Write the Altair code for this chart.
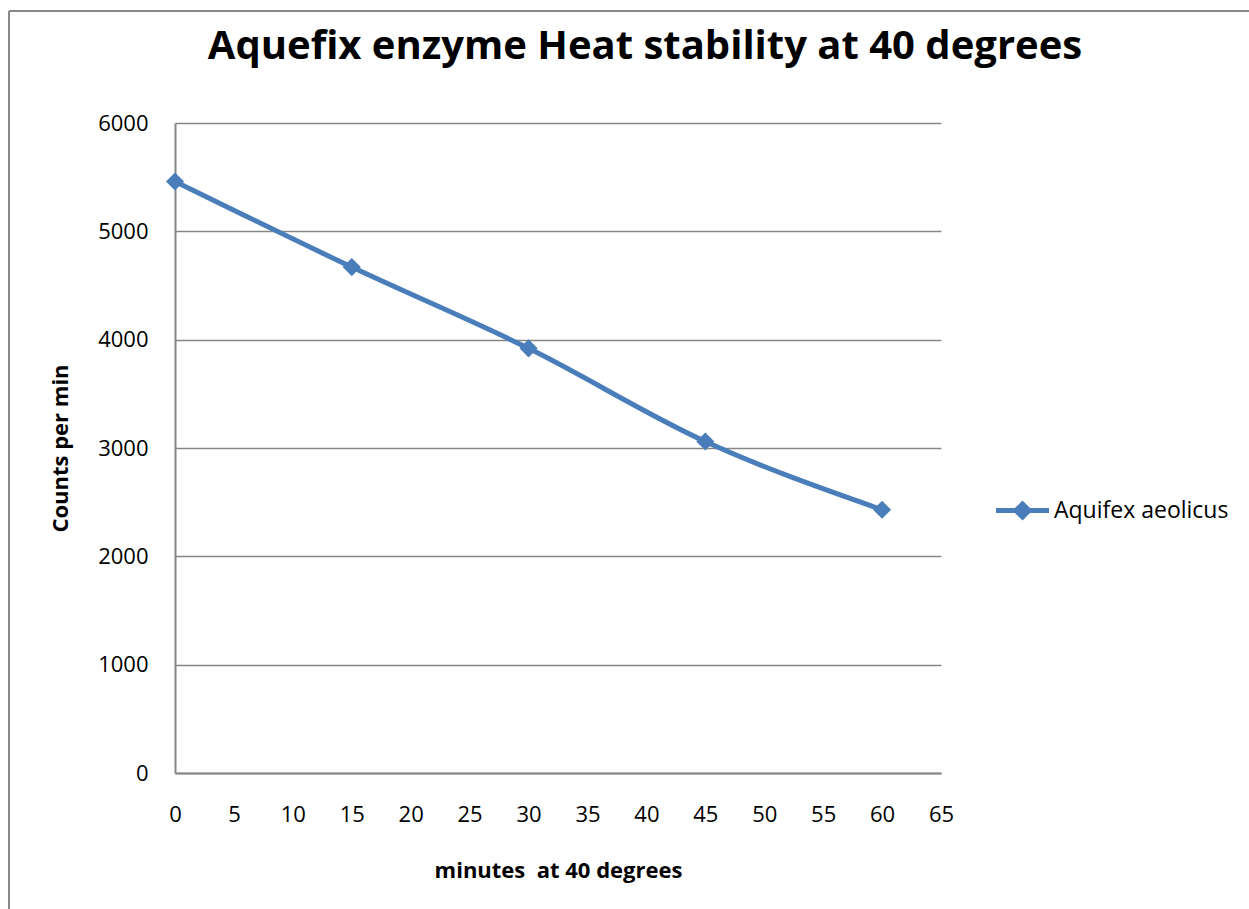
import altair as alt
import pandas as pd

minutes = [0, 15, 30, 45, 60]
counts = [5460, 4670, 3920, 3060, 2430]
series = ["Aquifex aeolicus"] * 5

df = pd.DataFrame({"minutes": minutes, "counts": counts, "series": series})

BLUE = "#4A7EBB"
GRID = "#868686"
FONT = "Open Sans"

x_enc = alt.X("minutes:Q",
              scale=alt.Scale(domain=[0, 65], nice=False),
              axis=alt.Axis(values=list(range(0, 70, 5)), title="minutes\u00a0 at 40 degrees",
                            format="d", grid=False, ticks=False, labelPadding=31,
                            labelFlush=False,
                            labelBaseline="top", titleY=97, titleBaseline="middle"))
y_enc = alt.Y("counts:Q",
              scale=alt.Scale(domain=[0, 6000], nice=False),
              axis=alt.Axis(values=list(range(0, 7000, 1000)), title="Counts per min",
                            format="d", grid=True, ticks=False, labelPadding=27,
                            labelFlush=False,
                            titleX=-115, titleBaseline="middle"))

line = alt.Chart(df).mark_line(color=BLUE, strokeWidth=5, interpolate="monotone").encode(
    x=x_enc, y=y_enc)

legend_path = ("M-1,-0.095L-0.285,-0.095L0,-0.38L0.285,-0.095L1,-0.095L1,0.095"
               "L0.285,0.095L0,0.38L-0.285,0.095L-1,0.095Z")

points = alt.Chart(df).mark_point(shape="diamond", filled=True, size=330, opacity=1).encode(
    x=x_enc, y=y_enc,
    color=alt.Color("series:N", scale=alt.Scale(range=[BLUE]),
                    legend=alt.Legend(title=None, orient="none", legendX=821, legendY=361,
                                      symbolType=legend_path, symbolSize=2809,
                                      symbolStrokeWidth=0, symbolOpacity=1,
                                      labelFontSize=23, labelFont=FONT, labelColor="#000000",
                                      labelOffset=5, labelLimit=400)))

border_top = alt.Chart(df).mark_rule(color="#888888", strokeWidth=2).encode(
    x=alt.value(-166), x2=alt.value(1080), y=alt.value(-112))
border_left = alt.Chart(df).mark_rule(color="#888888", strokeWidth=2).encode(
    x=alt.value(-166), y=alt.value(-112), y2=alt.value(790))

chart = alt.layer(border_top, border_left, line, points).properties(
    width=766, height=650,
    title=alt.TitleParams("Aquefix enzyme Heat stability at 40 degrees",
                          fontSize=40, font=FONT, fontWeight="bold", color="#000000",
                          anchor="middle", frame="group", dx=87, offset=-89,
                          baseline="alphabetic"),
    autosize=alt.AutoSizeParams(type="none"),
    padding={"left": 175, "top": 123, "right": 308, "bottom": 136},
    background="white",
).configure_view(stroke=None).configure_axis(
    labelFont=FONT, labelFontSize=22, labelColor="#000000",
    titleFont=FONT, titleFontSize=22, titleFontWeight="bold", titleColor="#000000",
    domainColor=GRID, domainWidth=2, gridColor=GRID, gridWidth=1.5, gridOpacity=1,
)

chart.save("out.html", embed_options={"renderer": "svg", "actions": False})
